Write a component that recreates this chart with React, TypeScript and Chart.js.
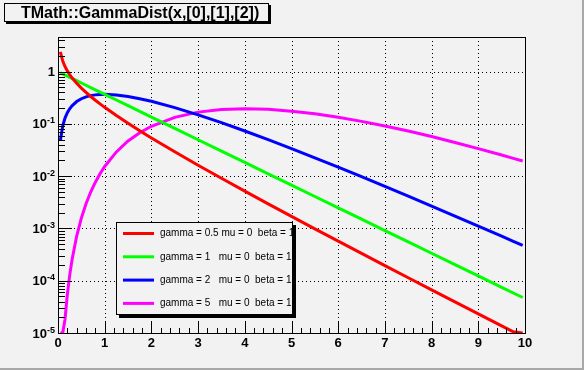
import { useEffect, useRef } from 'react';
import { Chart, registerables } from 'chart.js';

Chart.register(...registerables);

const xValues = [0.05, 0.1, 0.15, 0.2, 0.25, 0.3, 0.4, 0.5, 0.6, 0.7, 0.8, 0.9, 1, 1.25, 1.5, 1.75, 2, 2.5, 3, 3.5, 4, 4.5, 5, 5.5, 6, 6.5, 7, 7.5, 8, 8.5, 9, 9.5, 9.75, 9.95];

const gammaHalf = [2.4001, 1.6143, 1.2538, 1.0329, 0.8788, 0.7631, 0.598, 0.484, 0.3997, 0.3349, 0.2834, 0.2418, 0.2076, 0.14458, 0.10279, 0.07411, 0.05399, 0.02929, 0.016218, 0.009107, 0.005167, 0.002955, 0.0017001, 0.0009832, 0.000571, 0.0003327, 0.0001945, 0.00011394, 0.0000669, 0.00003937, 0.00002321, 0.0000137, 0.00001053, 0.000008535];

const gammaOne = [0.951229, 0.904837, 0.860708, 0.818731, 0.778801, 0.740818, 0.67032, 0.606531, 0.548812, 0.496585, 0.449329, 0.40657, 0.367879, 0.286505, 0.22313, 0.173774, 0.135335, 0.082085, 0.049787, 0.030197, 0.018316, 0.011109, 0.006738, 0.0040868, 0.0024788, 0.0015034, 0.00091188, 0.00055308, 0.00033546, 0.00020347, 0.00012341, 0.000074852, 0.00005829, 0.00004772];

const gammaTwo = [0.04756, 0.09048, 0.12911, 0.16375, 0.1947, 0.22225, 0.26813, 0.30327, 0.32929, 0.34761, 0.35946, 0.36591, 0.36788, 0.35813, 0.3347, 0.3041, 0.27067, 0.20521, 0.14936, 0.10569, 0.07326, 0.04999, 0.03369, 0.022477, 0.014873, 0.009772, 0.0063832, 0.0041481, 0.0026837, 0.0017295, 0.0011107, 0.0007111, 0.0005683, 0.0004748];

const gammaFive = [2.477e-7, 3.77e-6, 1.8155e-5, 5.458e-5, 1.2676e-4, 2.5003e-4, 7.15e-4, 0.0015795, 0.0029636, 0.0049679, 0.0076685, 0.011115, 0.015328, 0.029145, 0.047066, 0.06791, 0.090224, 0.1336, 0.16803, 0.18881, 0.19537, 0.1898, 0.17547, 0.15582, 0.13386, 0.11182, 0.091226, 0.072916, 0.057252, 0.044255, 0.033737, 0.025403, 0.021948, 0.019489];

const seriesLabels = [
  'gamma = 0.5 mu = 0  beta = 1',
  'gamma = 1   mu = 0  beta = 1',
  'gamma = 2   mu = 0  beta = 1',
  'gamma = 5   mu = 0  beta = 1',
];
const seriesColors = ['#ff0000', '#00ff00', '#0000ff', '#ff00ff'];

const titleText = 'TMath::GammaDist(x,[0],[1],[2])';

const xTickValues = [0, 1, 2, 3, 4, 5, 6, 7, 8, 9, 10];
const xTickLabels = ['0', '1', '2', '3', '4', '5', '6', '7', '8', '9', '10'];
const xMinorPerMajor = 5;

const yDecadeExponents = [-5, -4, -3, -2, -1, 0];
const yDecadeLabels = ['10', '10', '10', '10', '10', '1'];
const yDecadeSuperscripts = ['-5', '-4', '-3', '-2', '-1', ''];
const yMinorMultipliers = [2, 3, 4, 5, 6, 7, 8, 9];

const X_MIN = 0;
const X_MAX = 10;
const Y_MIN = 1e-5;
const Y_MAX = 4.6;

const FONT = "'Liberation Sans', Arial, Helvetica, sans-serif";
const BG = '#f2f2f2';

const rootStylePlugin = {
  id: 'rootStyle',
  beforeDraw(chart: any) {
    const ctx = chart.ctx as CanvasRenderingContext2D;
    const W = chart.width;
    const H = chart.height;
    ctx.save();
    ctx.fillStyle = BG;
    ctx.fillRect(0, 0, W, H);
    // canvas bevel border
    ctx.fillStyle = '#a8a8a8';
    ctx.fillRect(W - 2, 0, 2, H);
    ctx.fillRect(0, H - 2, W, 2);
    // title box with shadow
    const tx = 4, ty = 3, tw = 265, th = 19;
    ctx.fillStyle = '#000';
    ctx.fillRect(tx + 2, ty + 2, tw, th);
    ctx.fillStyle = BG;
    ctx.fillRect(tx, ty, tw, th);
    ctx.strokeStyle = '#000';
    ctx.lineWidth = 1;
    ctx.strokeRect(tx + 0.5, ty + 0.5, tw - 1, th - 1);
    ctx.fillStyle = '#000';
    ctx.font = `bold 16px ${FONT}`;
    ctx.textAlign = 'left';
    ctx.textBaseline = 'alphabetic';
    ctx.fillText(titleText, 21, 17.5);
    ctx.restore();
  },
  beforeDatasetsDraw(chart: any) {
    const ctx = chart.ctx as CanvasRenderingContext2D;
    const { left, right, top, bottom } = chart.chartArea;
    const xs = chart.scales.x;
    const ys = chart.scales.y;
    ctx.save();
    ctx.strokeStyle = '#000';
    ctx.lineWidth = 1;
    ctx.setLineDash([1, 3]);
    xTickValues.forEach((v) => {
      if (v === X_MIN || v === X_MAX) return;
      const px = Math.round(xs.getPixelForValue(v)) + 0.5;
      ctx.beginPath();
      ctx.moveTo(px, top);
      ctx.lineTo(px, bottom);
      ctx.stroke();
    });
    yDecadeExponents.forEach((e) => {
      const v = Math.pow(10, e);
      if (v <= Y_MIN) return;
      const py = Math.round(ys.getPixelForValue(v)) + 0.5;
      ctx.beginPath();
      ctx.moveTo(left, py);
      ctx.lineTo(right, py);
      ctx.stroke();
    });
    ctx.restore();
  },
  afterDatasetsDraw(chart: any) {
    const ctx = chart.ctx as CanvasRenderingContext2D;
    const { left, right, top, bottom } = chart.chartArea;
    const xs = chart.scales.x;
    const ys = chart.scales.y;
    ctx.save();
    ctx.setLineDash([]);
    ctx.strokeStyle = '#000';
    ctx.lineWidth = 1;
    // frame
    ctx.strokeRect(Math.round(left) + 0.5, Math.round(top) + 0.5, Math.round(right - left), Math.round(bottom - top));

    // x ticks (inward)
    const xMajorLen = 11;
    const xMinorLen = 5;
    ctx.beginPath();
    for (let i = 0; i < xTickValues.length; i++) {
      const v = xTickValues[i];
      const px = Math.round(xs.getPixelForValue(v)) + 0.5;
      ctx.moveTo(px, bottom);
      ctx.lineTo(px, bottom - xMajorLen);
      if (i < xTickValues.length - 1) {
        const step = (xTickValues[i + 1] - v) / xMinorPerMajor;
        for (let k = 1; k < xMinorPerMajor; k++) {
          const mx = Math.round(xs.getPixelForValue(v + k * step)) + 0.5;
          ctx.moveTo(mx, bottom);
          ctx.lineTo(mx, bottom - xMinorLen);
        }
      }
    }
    // y ticks (inward)
    const yMajorLen = 14;
    const yMinorLen = 7;
    yDecadeExponents.forEach((e) => {
      const base = Math.pow(10, e);
      const py = Math.round(ys.getPixelForValue(base)) + 0.5;
      ctx.moveTo(left, py);
      ctx.lineTo(left + yMajorLen, py);
      yMinorMultipliers.forEach((m) => {
        const v = m * base;
        if (v > Y_MAX) return;
        const my = Math.round(ys.getPixelForValue(v)) + 0.5;
        ctx.moveTo(left, my);
        ctx.lineTo(left + yMinorLen, my);
      });
    });
    ctx.stroke();

    // x labels
    ctx.fillStyle = '#000';
    ctx.font = `bold 13px ${FONT}`;
    ctx.textAlign = 'center';
    ctx.textBaseline = 'alphabetic';
    xTickValues.forEach((v, i) => {
      ctx.fillText(xTickLabels[i], xs.getPixelForValue(v), bottom + 14);
    });

    // y labels with superscripts
    yDecadeExponents.forEach((e, i) => {
      const py = ys.getPixelForValue(Math.pow(10, e));
      const sup = yDecadeSuperscripts[i];
      const rightEdge = left - 3;
      ctx.textAlign = 'left';
      if (sup) {
        ctx.font = `bold 9px ${FONT}`;
        const sw = ctx.measureText(sup).width;
        ctx.font = `bold 13px ${FONT}`;
        const bw = ctx.measureText(yDecadeLabels[i]).width;
        const x0 = rightEdge - sw - bw;
        ctx.fillText(yDecadeLabels[i], x0, py + 4.5);
        ctx.font = `bold 9px ${FONT}`;
        ctx.fillText(sup, x0 + bw, py - 0.5);
      } else {
        ctx.font = `bold 13px ${FONT}`;
        const bw = ctx.measureText(yDecadeLabels[i]).width;
        ctx.fillText(yDecadeLabels[i], rightEdge - bw, py + 4.5);
      }
    });

    // legend box
    const lx = 116, ly = 222, lw = 176, lh = 92;
    ctx.fillStyle = '#000';
    ctx.fillRect(lx + 3, ly + 3, lw + 1, lh + 1);
    ctx.fillStyle = BG;
    ctx.fillRect(lx, ly, lw, lh);
    ctx.strokeStyle = '#000';
    ctx.lineWidth = 1;
    ctx.strokeRect(lx + 0.5, ly + 0.5, lw, lh);
    ctx.save();
    ctx.beginPath();
    ctx.rect(lx, ly, lw + 1, lh);
    ctx.clip();
    seriesLabels.forEach((label, i) => {
      const rowY = 233.5 + i * 23.3;
      ctx.strokeStyle = seriesColors[i];
      ctx.lineWidth = 3;
      ctx.beginPath();
      ctx.moveTo(123, rowY);
      ctx.lineTo(154, rowY);
      ctx.stroke();
      ctx.fillStyle = '#000';
      ctx.font = `10px ${FONT}`;
      ctx.textAlign = 'left';
      ctx.textBaseline = 'middle';
      ctx.fillText(label, 160, rowY);
    });
    ctx.restore();
    ctx.restore();
  },
};

export default function App() {
  const canvasRef = useRef<HTMLCanvasElement | null>(null);

  useEffect(() => {
    const canvas = canvasRef.current;
    if (!canvas) return;
    const allSeries = [gammaHalf, gammaOne, gammaTwo, gammaFive];
    const chart = new Chart(canvas, {
      type: 'line',
      data: {
        datasets: allSeries.map((ys, i) => ({
          label: seriesLabels[i],
          // like ROOT, values below the log-axis minimum are drawn at the axis floor
          data: xValues.map((x, j) => ({ x, y: Math.max(ys[j], Y_MIN) })),
          borderColor: seriesColors[i],
          backgroundColor: seriesColors[i],
          borderWidth: 3,
          pointRadius: 0,
          tension: 0,
          fill: false,
        })),
      },
      options: {
        responsive: false,
        animation: false,
        events: [],
        layout: { padding: { top: 37, right: 59, left: 0, bottom: 0 } },
        plugins: {
          legend: { display: false },
          title: { display: false },
          tooltip: { enabled: false },
        },
        scales: {
          x: {
            type: 'linear',
            min: X_MIN,
            max: X_MAX,
            grid: { display: false },
            border: { display: false },
            ticks: { display: false },
            afterFit: (scale: any) => {
              scale.height = 37;
            },
          },
          y: {
            type: 'logarithmic',
            min: Y_MIN,
            max: Y_MAX,
            grid: { display: false },
            border: { display: false },
            ticks: { display: false },
            afterFit: (scale: any) => {
              scale.width = 58;
            },
          },
        },
      },
      plugins: [rootStylePlugin],
    } as any);
    return () => chart.destroy();
  }, []);

  return (
    <div style={{ position: 'absolute', left: 0, top: 0, width: 584, height: 370 }}>
      <canvas ref={canvasRef} width={584} height={370} style={{ display: 'block', width: 584, height: 370 }} />
    </div>
  );
}
